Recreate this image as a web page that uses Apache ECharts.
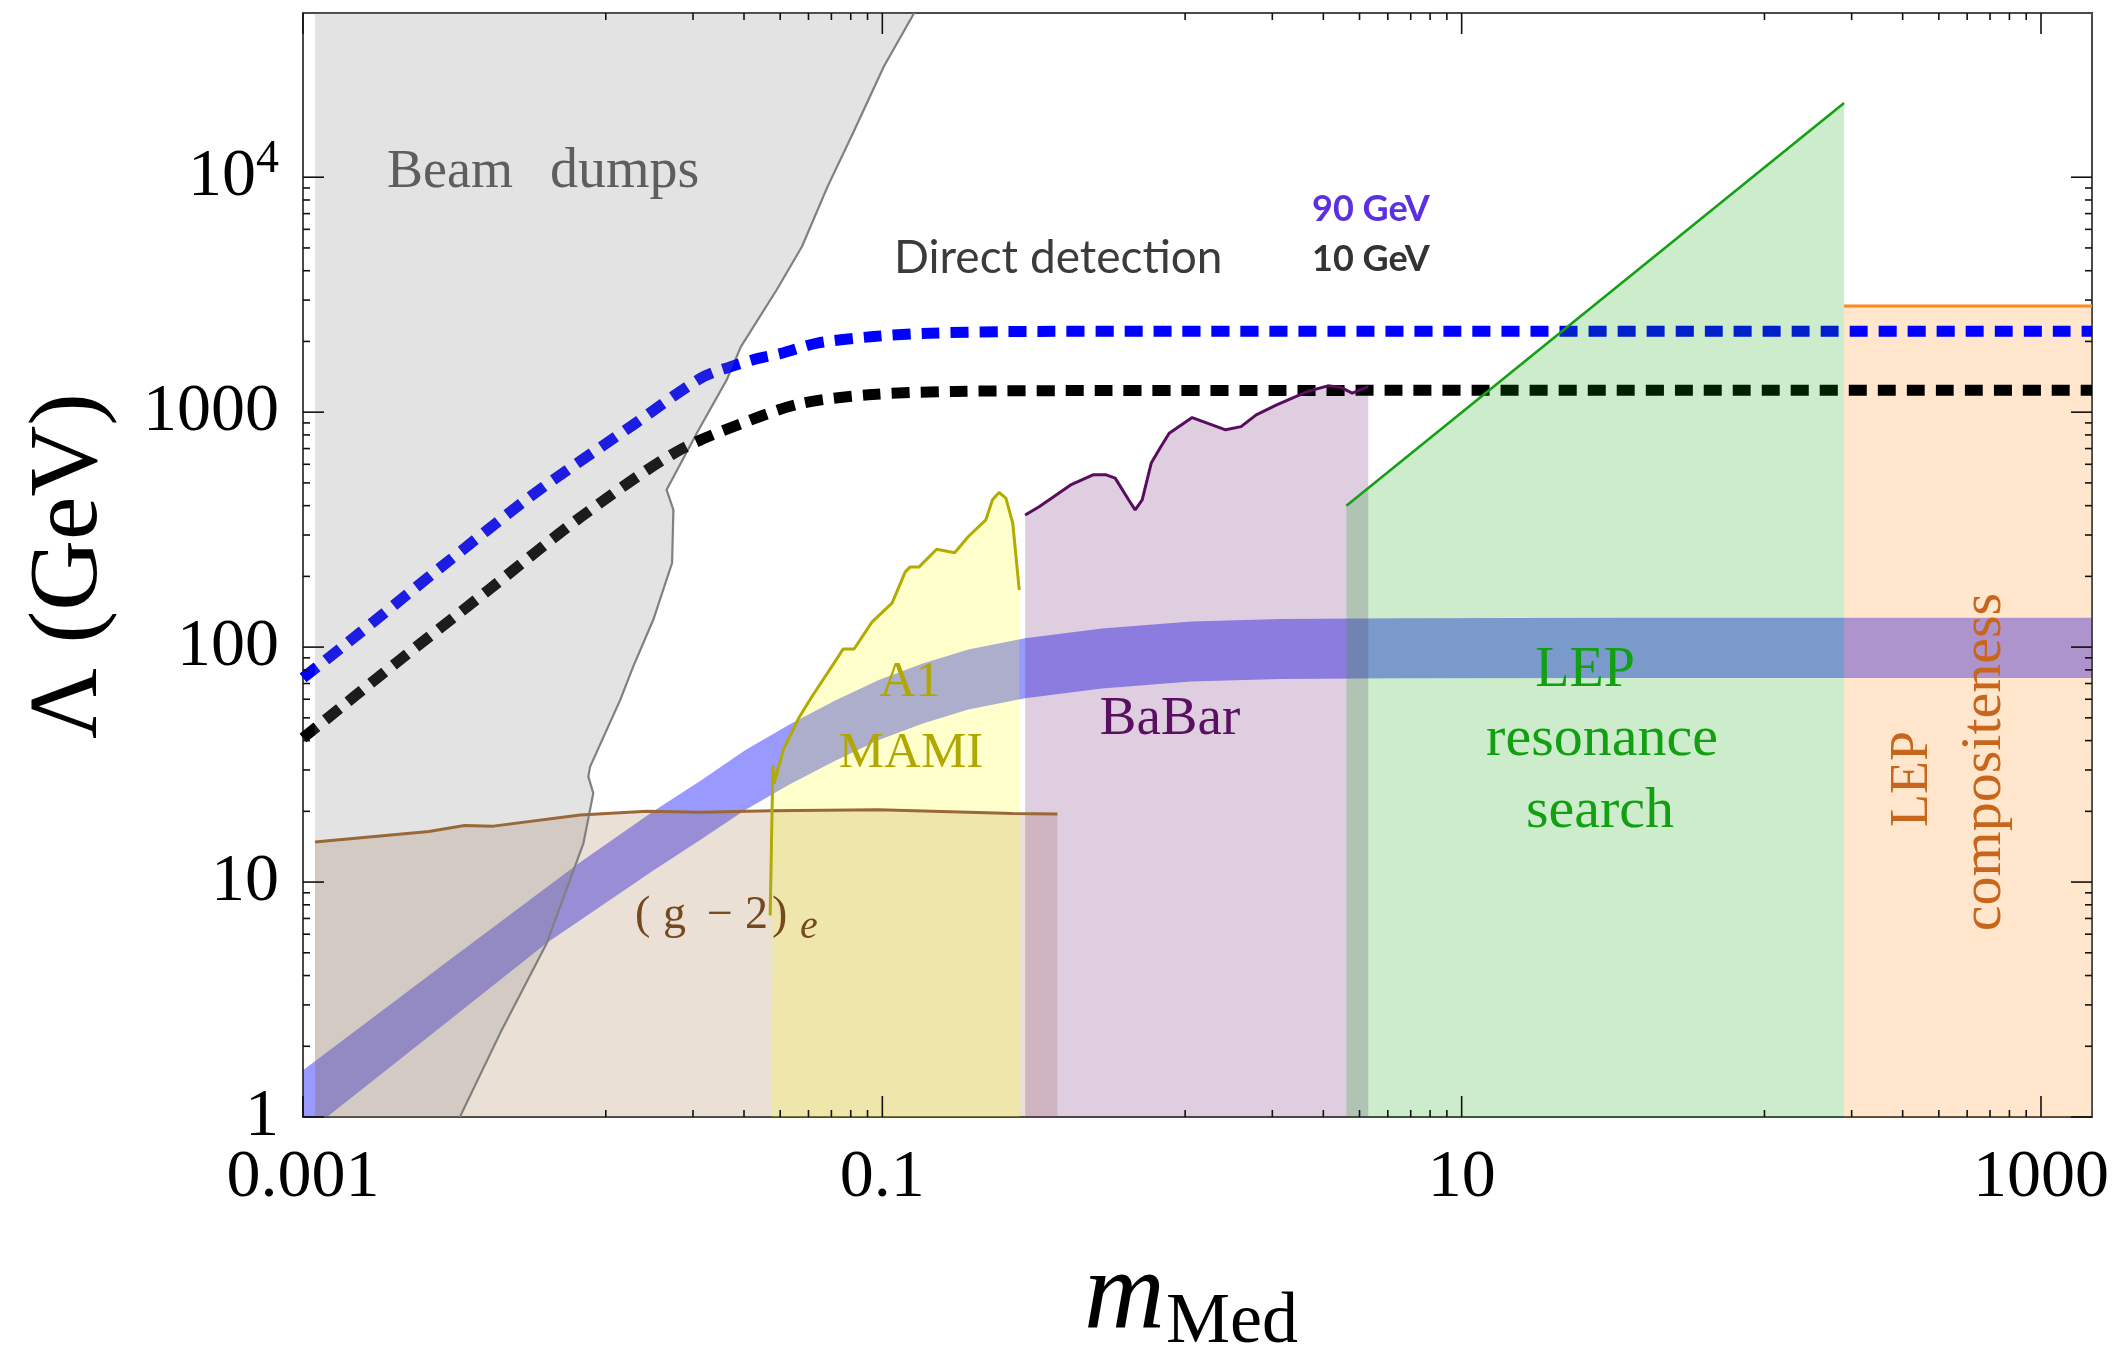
<!DOCTYPE html>
<html>
<head>
<meta charset="utf-8">
<script src="https://cdn.jsdelivr.net/npm/echarts@6/dist/echarts.min.js"></script>
<style>
  html, body { margin: 0; padding: 0; background: #ffffff; }
  #chart { width: 2112px; height: 1353px; }
</style>
</head>
<body>
<div id="chart"></div>
<script>
// ---- axis ranges (m_Med in GeV, Lambda in GeV) ----
const X_MIN = 0.001, X_MAX = 1500;
const Y_MIN = 1, Y_MAX = 50000;

// ---- tick values ----
const xLabelValues = [0.001, 0.1, 10, 1000];
const xLabelText = ['0.001', '0.1', '10', '1000'];
const yLabelValues = [1, 10, 100, 1000, 10000];
const yLabelText = ['1', '10', '100', '1000', '{b|10}{s|4}'];
const xMinorTicks = [0.0111, 0.0222, 0.0333, 0.0444, 0.0556, 0.0667, 0.0778, 0.0889,
                     1.11, 2.22, 3.33, 4.44, 5.56, 6.67, 7.78, 8.89,
                     111, 222, 333, 444, 556, 667, 778, 889];
const yMinorTicks = [2, 3, 4, 5, 6, 7, 8, 9,
                     20, 30, 40, 50, 60, 70, 80, 90,
                     200, 300, 400, 500, 600, 700, 800, 900,
                     2000, 3000, 4000, 5000, 6000, 7000, 8000, 9000];

// ---- direct detection reach: [m_Med, Lambda] ----
const ddMass90 = [[0.001, 74], [0.00142, 104], [0.00301, 220], [0.00632, 452], [0.0138, 883],
                  [0.0235, 1390], [0.030, 1563], [0.037, 1690], [0.045, 1782], [0.0596, 1968],
                  [0.0933, 2099], [0.146, 2168], [0.268, 2203], [1, 2210], [1500, 2210]];
const ddMass10 = [[0.001, 41], [0.00208, 85], [0.00437, 175], [0.00916, 360], [0.0195, 679],
                  [0.0352, 927], [0.0528, 1091], [0.0896, 1186], [0.178, 1225], [0.602, 1236],
                  [1500, 1240]];

// ---- favoured band: upper and lower edges ----
const bandUpper = [[0.00079, 1.28], [0.001, 1.58], [0.00316, 4.6], [0.00893, 12.0], [0.0162, 20.0],
                   [0.0235, 26.9], [0.0335, 36.3], [0.0478, 46.8], [0.0682, 58.9], [0.0972, 72.4],
                   [0.138, 85.1], [0.198, 97.7], [0.311, 109], [0.573, 120], [1.165, 128.5],
                   [2.364, 131.8], [6.14, 132.7], [40, 133.2], [1580, 133.4]];
const bandLower = [[0.00079, 0.66], [0.00121, 1.0], [0.00316, 2.55], [0.00694, 5.5], [0.0162, 11.2],
                   [0.0235, 15.1], [0.0335, 20.2], [0.0478, 26.0], [0.0682, 32.7], [0.0972, 40.2],
                   [0.138, 47.3], [0.198, 54.3], [0.311, 60.6], [0.573, 66.7], [1.165, 71.4],
                   [2.364, 73.2], [6.14, 73.7], [40, 73.9], [1580, 73.9]];

// ---- beam dump exclusion: left edge and boundary (top to bottom) ----
const beamDumpLeft = 0.0011;
const beamDumpEdge = [[0.1288, 50000], [0.1012, 29580], [0.0793, 15450], [0.0647, 9120], [0.0528, 5070],
                      [0.0432, 3320], [0.0325, 1900], [0.0290, 1371], [0.0229, 815], [0.0180, 467],
                      [0.0190, 384], [0.0188, 228], [0.0162, 131], [0.0138, 82.6], [0.01245, 59.6],
                      [0.0098, 31.0], [0.00966, 28.1], [0.01005, 23.9], [0.00929, 14.6],
                      [0.00694, 5.49], [0.00479, 2.27], [0.00348, 1.0]];

// ---- (g-2)_e bound ----
const g2Edge = [[0.0011, 14.8], [0.00272, 16.4], [0.00361, 17.4], [0.00454, 17.3], [0.00905, 19.3],
                [0.0154, 20.0], [0.0235, 19.8], [0.0414, 20.1], [0.0972, 20.3], [0.282, 19.6],
                [0.402, 19.5]];

// ---- A1 MAMI bound ----
const a1Left = 0.0415;
const a1Edge = [[0.0410, 7.2], [0.0419, 31.5], [0.0423, 26.3], [0.0455, 36.5], [0.0515, 50.0],
                [0.0571, 61.5], [0.0682, 85.7], [0.0732, 98.2], [0.0799, 98.2], [0.0922, 128],
                [0.108, 154], [0.120, 209], [0.1245, 219], [0.1337, 219], [0.154, 261],
                [0.1777, 252], [0.1978, 295], [0.2277, 348], [0.240, 424], [0.253, 455],
                [0.267, 431], [0.282, 337], [0.297, 175]];

// ---- BaBar bound ----
const babarEdge = [[0.3112, 365], [0.3478, 396], [0.4468, 490], [0.5336, 541], [0.5927, 541],
                   [0.6366, 524], [0.7091, 423], [0.7461, 384], [0.7890, 423], [0.8478, 607],
                   [0.9106, 705], [0.9779, 814], [1.174, 948], [1.532, 841], [1.731, 868],
                   [1.953, 974], [2.298, 1074], [2.930, 1224], [3.451, 1294], [3.809, 1278],
                   [4.190, 1205], [4.759, 1285]];

// ---- LEP resonance search and LEP compositeness ----
const lepEdge = [[4.0, 400], [209, 20700]];
const compositenessEdge = [[209, 2830], [1500, 2830]];

// ---------------------------------------------------------------
const SERIF = '"Liberation Serif", "Times New Roman", serif';
const SANS = 'Lato, "Open Sans", sans-serif';

// closed region from a boundary path down to the bottom of the plot
function toFloor(edge, left, right) {
  const pts = [];
  pts.push([left, Y_MIN]);
  edge.forEach(p => pts.push(p));
  pts.push([right, Y_MIN]);
  return pts;
}

function regionSeries(name, points, fill, z) {
  return {
    type: 'custom', name, z, silent: true,
    data: [[X_MIN, Y_MIN]],
    renderItem(params, api) {
      const cs = params.coordSys;
      return {
        type: 'group',
        clipPath: { type: 'rect', shape: { x: cs.x, y: cs.y, width: cs.width, height: cs.height } },
        children: [{
          type: 'polygon',
          shape: { points: points.map(p => api.coord(p)) },
          style: { fill }
        }]
      };
    }
  };
}

function lineSeries(name, data, color, width, z, extra) {
  return Object.assign({
    type: 'line', name, data, z, silent: true,
    symbol: 'none', showSymbol: false, clip: true, smooth: false,
    lineStyle: { color, width }
  }, extra || {});
}

function xTickSeries(values, len) {
  return {
    type: 'custom', z: 20, silent: true,
    data: values.map(v => [v, Y_MIN]),
    renderItem(params, api) {
      const cs = params.coordSys;
      const x = api.coord([api.value(0), Y_MIN])[0];
      const b = cs.y + cs.height, t = cs.y;
      const st = { stroke: '#111', lineWidth: 1.6 };
      return { type: 'group', children: [
        { type: 'line', shape: { x1: x, y1: b, x2: x, y2: b - len }, style: st },
        { type: 'line', shape: { x1: x, y1: t, x2: x, y2: t + len }, style: st }
      ] };
    }
  };
}

function yTickSeries(values, len) {
  return {
    type: 'custom', z: 20, silent: true,
    data: values.map(v => [X_MIN, v]),
    renderItem(params, api) {
      const cs = params.coordSys;
      const y = api.coord([X_MIN, api.value(1)])[1];
      const l = cs.x, r = cs.x + cs.width;
      const st = { stroke: '#111', lineWidth: 1.6 };
      return { type: 'group', children: [
        { type: 'line', shape: { x1: l, y1: y, x2: l + len, y2: y }, style: st },
        { type: 'line', shape: { x1: r, y1: y, x2: r - len, y2: y }, style: st }
      ] };
    }
  };
}

function matchLabel(v, values, texts) {
  for (let i = 0; i < values.length; i++) {
    if (Math.abs(Math.log10(v) - Math.log10(values[i])) < 1e-6) return texts[i];
  }
  return '';
}

// free text placed by its baseline
function txt(text, x, baseline, size, color, opts) {
  opts = opts || {};
  const family = opts.family || SERIF;
  const k = opts.mid != null ? opts.mid : 0.3375;
  return {
    type: 'text', x, y: baseline - k * size, z: 50, silent: true,
    style: {
      text, fill: color,
      font: (opts.style || '') + ' ' + (opts.weight || '') + ' ' + size + 'px ' + family,
      align: opts.align || 'left', verticalAlign: 'middle'
    }
  };
}

// text reading bottom to top, centred on (cx, cy)
function rtxt(text, cx, cy, size, color) {
  return {
    type: 'text', x: cx, y: cy, rotation: Math.PI / 2, z: 50, silent: true,
    style: { text, fill: color, font: size + 'px ' + SERIF, align: 'center', verticalAlign: 'middle' }
  };
}

const beamDumpRegion = [[beamDumpLeft, Y_MIN], [beamDumpLeft, Y_MAX]].concat(beamDumpEdge);
const bandRegion = bandUpper.concat(bandLower.slice().reverse());
const g2Region = toFloor(g2Edge, g2Edge[0][0], g2Edge[g2Edge.length - 1][0]);
const a1Region = toFloor(a1Edge.slice(1), a1Left, a1Edge[a1Edge.length - 1][0]);
const babarRegion = toFloor(babarEdge, babarEdge[0][0], babarEdge[babarEdge.length - 1][0]);
const lepRegion = toFloor(lepEdge, lepEdge[0][0], lepEdge[1][0]);
const compRegion = toFloor(compositenessEdge, compositenessEdge[0][0], compositenessEdge[1][0]);

const chart = echarts.init(document.getElementById('chart'), null, { renderer: 'canvas' });

const g2Color = '#74491f';
const dashStyle = { width: 11, type: [18, 11], cap: 'butt', join: 'round' };

chart.setOption({
  animation: false,
  backgroundColor: '#ffffff',
  grid: {
    left: 303, right: 20, top: 13, bottom: 236,
    show: true, borderColor: '#4a4a4a', borderWidth: 2, backgroundColor: 'transparent'
  },
  xAxis: {
    type: 'log', logBase: 10, min: X_MIN, max: X_MAX, interval: 2,
    axisLine: { show: false }, axisTick: { show: false }, splitLine: { show: false },
    axisLabel: {
      margin: 27, color: '#000', fontFamily: SERIF, fontSize: 68, lineHeight: 68,
      formatter: v => matchLabel(v, xLabelValues, xLabelText)
    }
  },
  yAxis: {
    type: 'log', logBase: 10, min: Y_MIN, max: Y_MAX, interval: 1,
    axisLine: { show: false }, axisTick: { show: false }, splitLine: { show: false },
    axisLabel: {
      margin: 24, color: '#000', fontFamily: SERIF, fontSize: 68, lineHeight: 68,
      formatter: v => matchLabel(v, yLabelValues, yLabelText),
      rich: {
        b: { fontFamily: SERIF, fontSize: 68, lineHeight: 80, verticalAlign: 'middle', color: '#000' },
        s: { fontFamily: SERIF, fontSize: 46, lineHeight: 40, verticalAlign: 'top', color: '#000' }
      }
    }
  },
  series: [
    regionSeries('band', bandRegion, 'rgba(0,0,255,0.4)', 1),
    regionSeries('LEP compositeness', compRegion, 'rgba(255,128,0,0.2)', 2),
    regionSeries('(g-2)e', g2Region, 'rgba(153,102,51,0.2)', 2),
    regionSeries('A1 MAMI', a1Region, 'rgba(255,255,0,0.2)', 2),
    regionSeries('BaBar', babarRegion, 'rgba(88,10,98,0.2)', 2),
    lineSeries('beam dump edge', beamDumpEdge, '#808080', 2.2, 3),
    lineSeries('Direct detection 90 GeV', ddMass90, '#0000ff', 11, 4,
      { smooth: 0.3, lineStyle: Object.assign({ color: '#0000ff' }, dashStyle) }),
    lineSeries('Direct detection 10 GeV', ddMass10, '#000000', 11, 4,
      { smooth: 0.3, lineStyle: Object.assign({ color: '#000000' }, dashStyle) }),
    regionSeries('Beam dumps', beamDumpRegion, 'rgba(128,128,128,0.22)', 5),
    regionSeries('LEP resonance', lepRegion, 'rgba(0,160,0,0.2)', 5),
    lineSeries('g-2 edge', g2Edge, '#9a6838', 3, 6),
    lineSeries('A1 edge', a1Edge, '#b2ab00', 3, 6),
    lineSeries('BaBar edge', babarEdge, '#5a0c5e', 3, 6),
    lineSeries('LEP edge', lepEdge, '#14a014', 2.6, 6),
    lineSeries('compositeness edge', compositenessEdge, '#ff8a1c', 3, 6),
    xTickSeries(xLabelValues, 21),
    xTickSeries(xMinorTicks, 7),
    yTickSeries(yLabelValues, 21),
    yTickSeries(yMinorTicks, 7)
  ],
  graphic: [
    txt('Beam', 387, 190.7, 54, '#5e5e5e'),
    txt('dumps', 550, 190.7, 56, '#5e5e5e'),
    txt('Direct detection', 894, 275, 46, '#3b3b3b', { family: SANS, mid: 0.37 }),
    txt('90 GeV', 1312, 222.7, 36, '#5c2fe0', { family: SANS, weight: 'bold', mid: 0.37 }),
    txt('10 GeV', 1312, 272.7, 36, '#333333', { family: SANS, weight: 'bold', mid: 0.37 }),
    txt('A1', 910, 700, 50, '#b0a800', { align: 'center' }),
    txt('MAMI', 911, 770.7, 51, '#b0a800', { align: 'center' }),
    txt('BaBar', 1170, 738, 55, '#5a1060', { align: 'center' }),
    txt('LEP', 1585, 690, 56, '#12a012', { align: 'center' }),
    txt('resonance', 1602, 759, 58, '#12a012', { align: 'center' }),
    txt('search', 1600, 831, 58, '#12a012', { align: 'center' }),
    rtxt('LEP', 1913, 779, 54, '#c8661e'),
    rtxt('compositeness', 1985, 762, 58, '#c8661e'),
    txt('(', 635, 931.7, 46, g2Color),
    txt('g', 663, 931.7, 46, g2Color),
    txt('\u2212', 707, 931.7, 46, g2Color),
    txt('2', 745, 931.7, 46, g2Color),
    txt(')', 772, 931.7, 46, g2Color),
    txt('e', 800, 941, 40, g2Color, { style: 'italic' }),
    rtxt('\u039B (GeV)', 70, 566, 98, '#000000'),
    txt('m', 1084, 1336, 112, '#000000', { style: 'italic' }),
    txt('Med', 1166, 1347, 72, '#000000')
  ]
});
</script>
</body>
</html>
